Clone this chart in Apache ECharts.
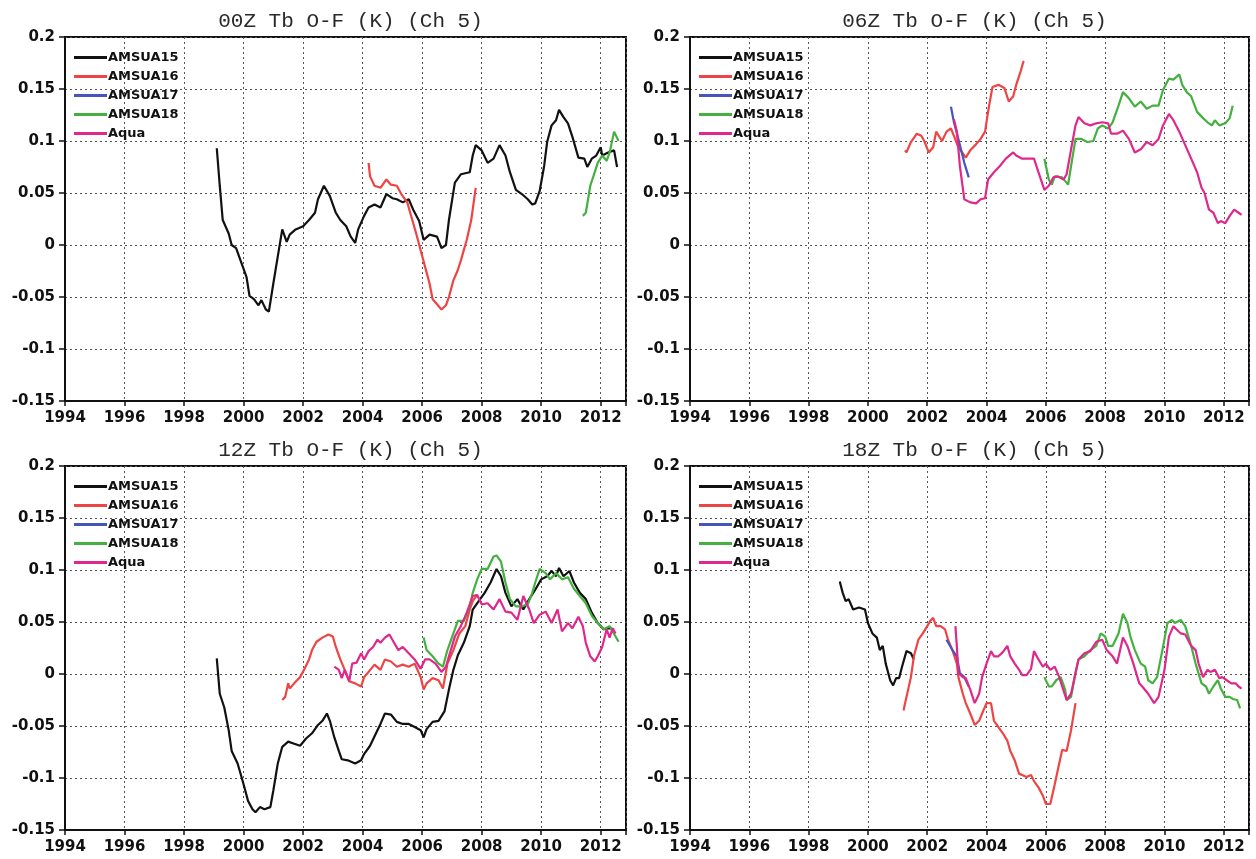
<!DOCTYPE html>
<html><head><meta charset="utf-8">
<script src="https://cdn.jsdelivr.net/npm/echarts@6/dist/echarts.min.js"></script>
<style>html,body{margin:0;padding:0;background:#fff}#c{width:1256px;height:859px}</style>
</head><body><div id="c"></div>
<script>
const panels = ['00Z', '06Z', '12Z', '18Z'];
const satellites = ['AMSUA15', 'AMSUA16', 'AMSUA17', 'AMSUA18', 'Aqua'];
const xTickYears = [1994, 1996, 1998, 2000, 2002, 2004, 2006, 2008, 2010, 2012];
const yTickValues = [-0.15, -0.1, -0.05, 0, 0.05, 0.1, 0.15, 0.2];

// ---- 00Z ----
const z00_AMSUA15 = [[1999.1,0.093],[1999.2,0.057],[1999.3,0.024],[1999.5,0.011],[1999.6,0.0],[1999.75,-0.003],[1999.9,-0.015],[2000.1,-0.031],[2000.2,-0.049],[2000.35,-0.052],[2000.5,-0.058],[2000.6,-0.053],[2000.75,-0.062],[2000.85,-0.064],[2001.0,-0.037],[2001.15,-0.011],[2001.3,0.015],[2001.45,0.003],[2001.55,0.01],[2001.75,0.015],[2002.0,0.018],[2002.2,0.024],[2002.4,0.031],[2002.5,0.044],[2002.7,0.057],[2002.9,0.047],[2003.1,0.031],[2003.25,0.024],[2003.45,0.018],[2003.6,0.008],[2003.75,0.002],[2003.85,0.015],[2004.05,0.028],[2004.2,0.036],[2004.4,0.039],[2004.6,0.036],[2004.8,0.049],[2005.0,0.045],[2005.15,0.044],[2005.35,0.041],[2005.55,0.044],[2005.7,0.034],[2005.9,0.023],[2006.05,0.005],[2006.25,0.01],[2006.5,0.008],[2006.65,-0.003],[2006.8,0.0],[2006.9,0.024],[2007.1,0.06],[2007.3,0.068],[2007.6,0.07],[2007.7,0.086],[2007.8,0.096],[2008.0,0.091],[2008.2,0.079],[2008.4,0.083],[2008.6,0.096],[2008.8,0.086],[2008.95,0.07],[2009.15,0.053],[2009.35,0.049],[2009.55,0.044],[2009.7,0.039],[2009.8,0.04],[2009.95,0.052],[2010.1,0.076],[2010.2,0.099],[2010.35,0.115],[2010.5,0.12],[2010.6,0.13],[2010.75,0.123],[2010.9,0.117],[2011.05,0.104],[2011.25,0.084],[2011.45,0.083],[2011.55,0.075],[2011.7,0.083],[2011.85,0.086],[2012.0,0.094],[2012.05,0.086],[2012.25,0.089],[2012.45,0.091],[2012.55,0.075]];
const z00_AMSUA16 = [[2004.2,0.079],[2004.25,0.066],[2004.4,0.057],[2004.6,0.055],[2004.8,0.063],[2004.95,0.058],[2005.15,0.057],[2005.3,0.049],[2005.5,0.041],[2005.6,0.031],[2005.8,0.011],[2005.95,-0.005],[2006.1,-0.021],[2006.25,-0.037],[2006.35,-0.052],[2006.5,-0.057],[2006.65,-0.062],[2006.8,-0.058],[2006.9,-0.05],[2007.05,-0.034],[2007.2,-0.024],[2007.3,-0.015],[2007.5,0.005],[2007.65,0.024],[2007.8,0.055]];
const z00_AMSUA17 = [];
const z00_AMSUA18 = [[2011.4,0.028],[2011.5,0.031],[2011.65,0.057],[2011.8,0.07],[2011.9,0.079],[2012.05,0.086],[2012.2,0.081],[2012.3,0.089],[2012.45,0.109],[2012.6,0.1]];
const z00_Aqua = [];

// ---- 06Z ----
const z06_AMSUA15 = [];
const z06_AMSUA16 = [[2001.25,0.091],[2001.3,0.089],[2001.45,0.099],[2001.65,0.107],[2001.8,0.105],[2001.9,0.1],[2002.05,0.089],[2002.2,0.094],[2002.3,0.109],[2002.5,0.1],[2002.65,0.109],[2002.8,0.112],[2002.9,0.105],[2003.05,0.094],[2003.2,0.088],[2003.3,0.084],[2003.45,0.091],[2003.65,0.097],[2003.8,0.102],[2003.95,0.109],[2004.05,0.128],[2004.2,0.152],[2004.4,0.154],[2004.6,0.151],[2004.75,0.138],[2004.9,0.143],[2005.0,0.154],[2005.15,0.167],[2005.25,0.177]];
const z06_AMSUA17 = [[2002.8,0.133],[2002.9,0.118],[2003.05,0.102],[2003.25,0.079],[2003.4,0.065]];
const z06_AMSUA18 = [[2005.95,0.083],[2006.1,0.063],[2006.2,0.058],[2006.3,0.066],[2006.55,0.065],[2006.75,0.058],[2006.85,0.076],[2007.0,0.102],[2007.2,0.102],[2007.4,0.099],[2007.6,0.1],[2007.75,0.112],[2007.9,0.115],[2008.1,0.112],[2008.25,0.118],[2008.45,0.134],[2008.6,0.147],[2008.8,0.141],[2009.0,0.133],[2009.2,0.138],[2009.4,0.131],[2009.6,0.134],[2009.8,0.134],[2009.95,0.149],[2010.15,0.16],[2010.3,0.159],[2010.5,0.164],[2010.6,0.154],[2010.75,0.147],[2010.9,0.143],[2011.1,0.128],[2011.3,0.122],[2011.45,0.118],[2011.6,0.115],[2011.7,0.12],[2011.85,0.115],[2012.05,0.117],[2012.2,0.122],[2012.25,0.128],[2012.3,0.134]];
const z06_Aqua = [[2002.9,0.121],[2003.0,0.109],[2003.1,0.076],[2003.25,0.044],[2003.45,0.041],[2003.65,0.04],[2003.8,0.044],[2003.95,0.045],[2004.05,0.063],[2004.25,0.07],[2004.45,0.076],[2004.65,0.083],[2004.9,0.089],[2005.0,0.086],[2005.2,0.083],[2005.4,0.083],[2005.6,0.083],[2005.75,0.07],[2005.95,0.053],[2006.1,0.057],[2006.25,0.065],[2006.4,0.066],[2006.6,0.063],[2006.7,0.068],[2006.85,0.092],[2007.0,0.115],[2007.1,0.123],[2007.3,0.117],[2007.5,0.115],[2007.7,0.117],[2007.9,0.118],[2008.1,0.117],[2008.2,0.107],[2008.4,0.107],[2008.6,0.11],[2008.8,0.102],[2009.0,0.089],[2009.2,0.092],[2009.4,0.099],[2009.6,0.096],[2009.8,0.102],[2009.95,0.115],[2010.15,0.126],[2010.3,0.12],[2010.5,0.109],[2010.7,0.096],[2010.9,0.083],[2011.1,0.07],[2011.25,0.055],[2011.35,0.05],[2011.5,0.034],[2011.65,0.031],[2011.8,0.021],[2011.9,0.023],[2012.05,0.021],[2012.2,0.028],[2012.35,0.034],[2012.5,0.031],[2012.6,0.029]];

// ---- 12Z ----
const z12_AMSUA15 = [[1999.1,0.015],[1999.2,-0.019],[1999.35,-0.032],[1999.5,-0.054],[1999.6,-0.074],[1999.8,-0.086],[2000.0,-0.106],[2000.15,-0.122],[2000.3,-0.13],[2000.4,-0.133],[2000.55,-0.128],[2000.7,-0.13],[2000.9,-0.128],[2001.0,-0.112],[2001.15,-0.086],[2001.3,-0.07],[2001.5,-0.065],[2001.7,-0.067],[2001.9,-0.069],[2002.1,-0.062],[2002.3,-0.057],[2002.5,-0.049],[2002.65,-0.045],[2002.8,-0.038],[2002.9,-0.045],[2003.05,-0.061],[2003.2,-0.074],[2003.3,-0.082],[2003.5,-0.083],[2003.75,-0.086],[2003.95,-0.083],[2004.05,-0.077],[2004.25,-0.069],[2004.45,-0.057],[2004.6,-0.048],[2004.75,-0.038],[2004.95,-0.039],[2005.15,-0.046],[2005.35,-0.048],[2005.55,-0.048],[2005.75,-0.051],[2005.95,-0.054],[2006.05,-0.061],[2006.15,-0.053],[2006.35,-0.046],[2006.55,-0.045],[2006.75,-0.036],[2006.9,-0.015],[2007.05,0.004],[2007.2,0.018],[2007.4,0.03],[2007.6,0.046],[2007.7,0.062],[2007.9,0.07],[2008.1,0.078],[2008.3,0.088],[2008.5,0.101],[2008.65,0.094],[2008.8,0.078],[2009.0,0.065],[2009.2,0.072],[2009.4,0.062],[2009.6,0.072],[2009.8,0.081],[2010.0,0.091],[2010.2,0.094],[2010.35,0.099],[2010.5,0.094],[2010.6,0.102],[2010.75,0.094],[2010.95,0.099],[2011.1,0.088],[2011.3,0.078],[2011.5,0.072],[2011.7,0.059],[2011.9,0.049],[2012.1,0.043],[2012.3,0.044],[2012.45,0.043]];
const z12_AMSUA16 = [[2001.3,-0.025],[2001.4,-0.022],[2001.5,-0.009],[2001.55,-0.014],[2001.7,-0.009],[2001.9,-0.003],[2002.05,0.005],[2002.2,0.014],[2002.3,0.023],[2002.45,0.031],[2002.65,0.035],[2002.85,0.038],[2003.0,0.036],[2003.1,0.026],[2003.25,0.014],[2003.4,0.004],[2003.55,-0.007],[2003.75,-0.009],[2003.95,-0.012],[2004.05,-0.003],[2004.2,0.002],[2004.4,0.009],[2004.6,0.004],[2004.75,0.014],[2004.95,0.012],[2005.15,0.007],[2005.35,0.009],[2005.55,0.007],[2005.75,0.01],[2005.95,-0.003],[2006.05,-0.015],[2006.15,-0.009],[2006.35,-0.004],[2006.55,-0.006],[2006.7,-0.014],[2006.85,0.01],[2007.05,0.023],[2007.25,0.039],[2007.45,0.046],[2007.6,0.062],[2007.7,0.07],[2007.85,0.076]];
const z12_AMSUA17 = [];
const z12_AMSUA18 = [[2006.05,0.035],[2006.15,0.023],[2006.35,0.017],[2006.55,0.01],[2006.7,0.007],[2006.85,0.023],[2007.05,0.039],[2007.2,0.051],[2007.4,0.051],[2007.6,0.065],[2007.7,0.078],[2007.85,0.091],[2008.0,0.101],[2008.2,0.101],[2008.4,0.113],[2008.5,0.114],[2008.65,0.108],[2008.8,0.088],[2008.95,0.072],[2009.15,0.065],[2009.35,0.065],[2009.55,0.067],[2009.7,0.078],[2009.8,0.088],[2009.95,0.101],[2010.15,0.097],[2010.3,0.091],[2010.5,0.097],[2010.7,0.091],[2010.9,0.093],[2011.1,0.082],[2011.3,0.075],[2011.5,0.068],[2011.7,0.056],[2011.9,0.049],[2012.1,0.043],[2012.3,0.046],[2012.5,0.036],[2012.6,0.031]];
const z12_Aqua = [[2003.05,0.007],[2003.2,0.004],[2003.3,-0.004],[2003.4,0.004],[2003.55,-0.007],[2003.65,0.01],[2003.8,0.011],[2003.95,0.02],[2004.05,0.014],[2004.2,0.022],[2004.35,0.026],[2004.5,0.033],[2004.6,0.03],[2004.75,0.035],[2004.9,0.038],[2005.0,0.033],[2005.2,0.023],[2005.35,0.026],[2005.55,0.02],[2005.75,0.014],[2005.95,0.005],[2006.1,0.014],[2006.25,0.014],[2006.45,0.01],[2006.65,0.002],[2006.8,0.007],[2006.9,0.017],[2007.1,0.036],[2007.3,0.046],[2007.5,0.059],[2007.7,0.075],[2007.85,0.076],[2008.0,0.067],[2008.2,0.068],[2008.4,0.062],[2008.6,0.072],[2008.8,0.06],[2009.0,0.059],[2009.2,0.052],[2009.4,0.075],[2009.6,0.062],[2009.75,0.049],[2009.95,0.057],[2010.15,0.06],[2010.35,0.049],[2010.55,0.062],[2010.7,0.041],[2010.9,0.049],[2011.05,0.044],[2011.25,0.055],[2011.4,0.046],[2011.5,0.03],[2011.65,0.017],[2011.8,0.012],[2011.9,0.017],[2012.05,0.026],[2012.2,0.043],[2012.3,0.035],[2012.4,0.044],[2012.5,0.039]];

// ---- 18Z ----
const z18_AMSUA15 = [[1999.05,0.089],[1999.15,0.078],[1999.25,0.07],[1999.35,0.072],[1999.5,0.062],[1999.7,0.064],[1999.9,0.062],[2000.0,0.049],[2000.15,0.039],[2000.3,0.035],[2000.4,0.023],[2000.5,0.027],[2000.6,0.01],[2000.75,-0.006],[2000.85,-0.011],[2000.95,-0.004],[2001.05,-0.004],[2001.15,0.007],[2001.3,0.022],[2001.45,0.02],[2001.55,0.014]];
const z18_AMSUA16 = [[2001.2,-0.035],[2001.3,-0.022],[2001.45,-0.003],[2001.55,0.017],[2001.7,0.033],[2001.85,0.039],[2002.0,0.046],[2002.1,0.051],[2002.2,0.054],[2002.3,0.046],[2002.45,0.046],[2002.6,0.043],[2002.7,0.033],[2002.85,0.023],[2003.0,0.01],[2003.05,-0.003],[2003.2,-0.019],[2003.3,-0.028],[2003.45,-0.038],[2003.6,-0.049],[2003.75,-0.045],[2003.85,-0.038],[2004.0,-0.028],[2004.15,-0.028],[2004.25,-0.045],[2004.4,-0.051],[2004.55,-0.057],[2004.7,-0.064],[2004.8,-0.074],[2004.95,-0.083],[2005.1,-0.096],[2005.2,-0.097],[2005.35,-0.099],[2005.5,-0.097],[2005.6,-0.103],[2005.75,-0.109],[2005.9,-0.117],[2006.0,-0.125],[2006.15,-0.125],[2006.3,-0.106],[2006.45,-0.086],[2006.55,-0.073],[2006.7,-0.074],[2006.85,-0.054],[2007.0,-0.028]];
const z18_AMSUA17 = [[2002.65,0.033],[2002.85,0.023],[2003.0,0.017],[2003.1,0.001],[2003.25,-0.003],[2003.4,-0.012]];
const z18_AMSUA18 = [[2005.95,-0.003],[2006.1,-0.012],[2006.2,-0.012],[2006.35,-0.006],[2006.5,-0.003],[2006.65,-0.015],[2006.7,-0.025],[2006.85,-0.022],[2007.0,0.001],[2007.1,0.014],[2007.3,0.017],[2007.5,0.023],[2007.7,0.027],[2007.85,0.039],[2008.0,0.036],[2008.1,0.027],[2008.25,0.027],[2008.45,0.039],[2008.6,0.058],[2008.75,0.049],[2008.85,0.036],[2009.0,0.023],[2009.2,0.01],[2009.35,0.007],[2009.45,-0.006],[2009.6,-0.009],[2009.75,-0.003],[2009.95,0.026],[2010.1,0.049],[2010.25,0.052],[2010.35,0.049],[2010.55,0.052],[2010.7,0.046],[2010.9,0.027],[2011.05,0.01],[2011.25,-0.009],[2011.4,-0.012],[2011.5,-0.019],[2011.65,-0.012],[2011.8,-0.006],[2011.9,-0.014],[2012.05,-0.022],[2012.2,-0.022],[2012.3,-0.024],[2012.45,-0.025],[2012.55,-0.033]];
const z18_Aqua = [[2002.95,0.046],[2003.0,0.026],[2003.05,0.001],[2003.2,-0.003],[2003.3,-0.004],[2003.45,-0.015],[2003.6,-0.028],[2003.75,-0.019],[2003.85,-0.003],[2004.0,0.01],[2004.15,0.022],[2004.25,0.017],[2004.4,0.017],[2004.55,0.021],[2004.7,0.027],[2004.8,0.017],[2004.95,0.01],[2005.1,0.004],[2005.2,-0.001],[2005.35,-0.001],[2005.5,0.005],[2005.6,0.022],[2005.75,0.014],[2005.9,0.007],[2006.0,0.01],[2006.15,0.004],[2006.3,0.007],[2006.45,-0.003],[2006.55,-0.012],[2006.7,-0.025],[2006.85,-0.019],[2007.0,0.001],[2007.1,0.014],[2007.3,0.02],[2007.5,0.022],[2007.7,0.031],[2007.9,0.033],[2008.05,0.023],[2008.25,0.017],[2008.4,0.01],[2008.6,0.035],[2008.75,0.027],[2008.95,0.01],[2009.15,-0.009],[2009.25,-0.012],[2009.45,-0.019],[2009.65,-0.028],[2009.8,-0.022],[2010.0,0.004],[2010.15,0.036],[2010.3,0.046],[2010.4,0.043],[2010.55,0.039],[2010.7,0.038],[2010.9,0.027],[2011.05,0.023],[2011.15,0.01],[2011.3,-0.003],[2011.45,0.004],[2011.55,0.002],[2011.7,0.004],[2011.85,-0.004],[2011.95,-0.003],[2012.1,-0.006],[2012.25,-0.009],[2012.4,-0.009],[2012.5,-0.012],[2012.6,-0.014]];

const panelData = [
  [z00_AMSUA15, z00_AMSUA16, z00_AMSUA17, z00_AMSUA18, z00_Aqua],
  [z06_AMSUA15, z06_AMSUA16, z06_AMSUA17, z06_AMSUA18, z06_Aqua],
  [z12_AMSUA15, z12_AMSUA16, z12_AMSUA17, z12_AMSUA18, z12_Aqua],
  [z18_AMSUA15, z18_AMSUA16, z18_AMSUA17, z18_AMSUA18, z18_Aqua]
];

const colors = ['#111111', '#ee4444', '#4455bb', '#44b040', '#e0288c'];
const gridPos = [
  {left: 65, top: 37, width: 561, height: 364},
  {left: 690, top: 37, width: 559, height: 364},
  {left: 65, top: 466, width: 561, height: 364},
  {left: 690, top: 466, width: 559, height: 364}
];
const labelFont = {fontFamily: 'DejaVu Sans', fontWeight: 'bold', fontSize: 15, color: '#111'};

const option = {
  backgroundColor: '#fff',
  animation: false,
  title: panels.map((p, i) => ({
    text: p + ' Tb O-F (K) (Ch 5)',
    left: gridPos[i].left + gridPos[i].width / 2,
    textAlign: 'center',
    top: gridPos[i].top - 31,
    textStyle: {fontFamily: 'Liberation Mono', fontSize: 21, fontWeight: 'normal', color: '#2a2a2a'}
  })),
  legend: panels.map((p, i) => ({
    data: satellites.map(s => ({name: s, icon: 'rect'})),
    orient: 'vertical',
    left: gridPos[i].left + 9,
    top: gridPos[i].top + 14,
    itemWidth: 33,
    itemHeight: 3,
    itemGap: 6,
    padding: 0,
    selectedMode: false,
    textStyle: {fontFamily: 'DejaVu Sans', fontWeight: 'bold', fontSize: 13, color: '#111', padding: [0, 0, 0, -4]}
  })),
  grid: gridPos.map(g => Object.assign({show: true, borderColor: '#111', borderWidth: 2, backgroundColor: 'transparent', containLabel: false}, g)),
  xAxis: gridPos.map((g, i) => ({
    type: 'value', gridIndex: i, min: xTickYears[0], max: 2012.85, interval: 2,
    axisLine: {show: true, onZero: false, lineStyle: {color: '#111', width: 2}},
    axisTick: {show: true, length: 5, lineStyle: {color: '#111', width: 1.5}},
    axisLabel: Object.assign({margin: 10, formatter: v => (Math.abs(v - Math.round(v)) < 1e-6 && xTickYears.includes(Math.round(v))) ? String(Math.round(v)) : ''}, labelFont),
    splitLine: {show: true, lineStyle: {color: '#555', type: [2, 3], width: 1}}
  })),
  yAxis: gridPos.map((g, i) => ({
    type: 'value', gridIndex: i, min: yTickValues[0], max: yTickValues[yTickValues.length - 1], interval: 0.05,
    axisLine: {show: true, onZero: false, lineStyle: {color: '#111', width: 2}},
    axisTick: {show: true, length: 6, lineStyle: {color: '#111', width: 1.5}},
    axisLabel: Object.assign({margin: 10, formatter: v => String(Math.round(v * 100) / 100)}, labelFont),
    splitLine: {show: true, lineStyle: {color: '#555', type: [2, 3], width: 1}}
  })),
  series: []
};

panelData.forEach((sets, i) => {
  sets.forEach((data, k) => {
    option.series.push({
      type: 'line', name: satellites[k], xAxisIndex: i, yAxisIndex: i,
      data: data, symbol: 'none', smooth: false,
      lineStyle: {color: colors[k], width: 2.2},
      itemStyle: {color: colors[k]},
      z: 3 + k
    });
  });
});

const chart = echarts.init(document.getElementById('c'), null, {renderer: 'canvas'});
chart.setOption(option);
</script>
</body></html>
